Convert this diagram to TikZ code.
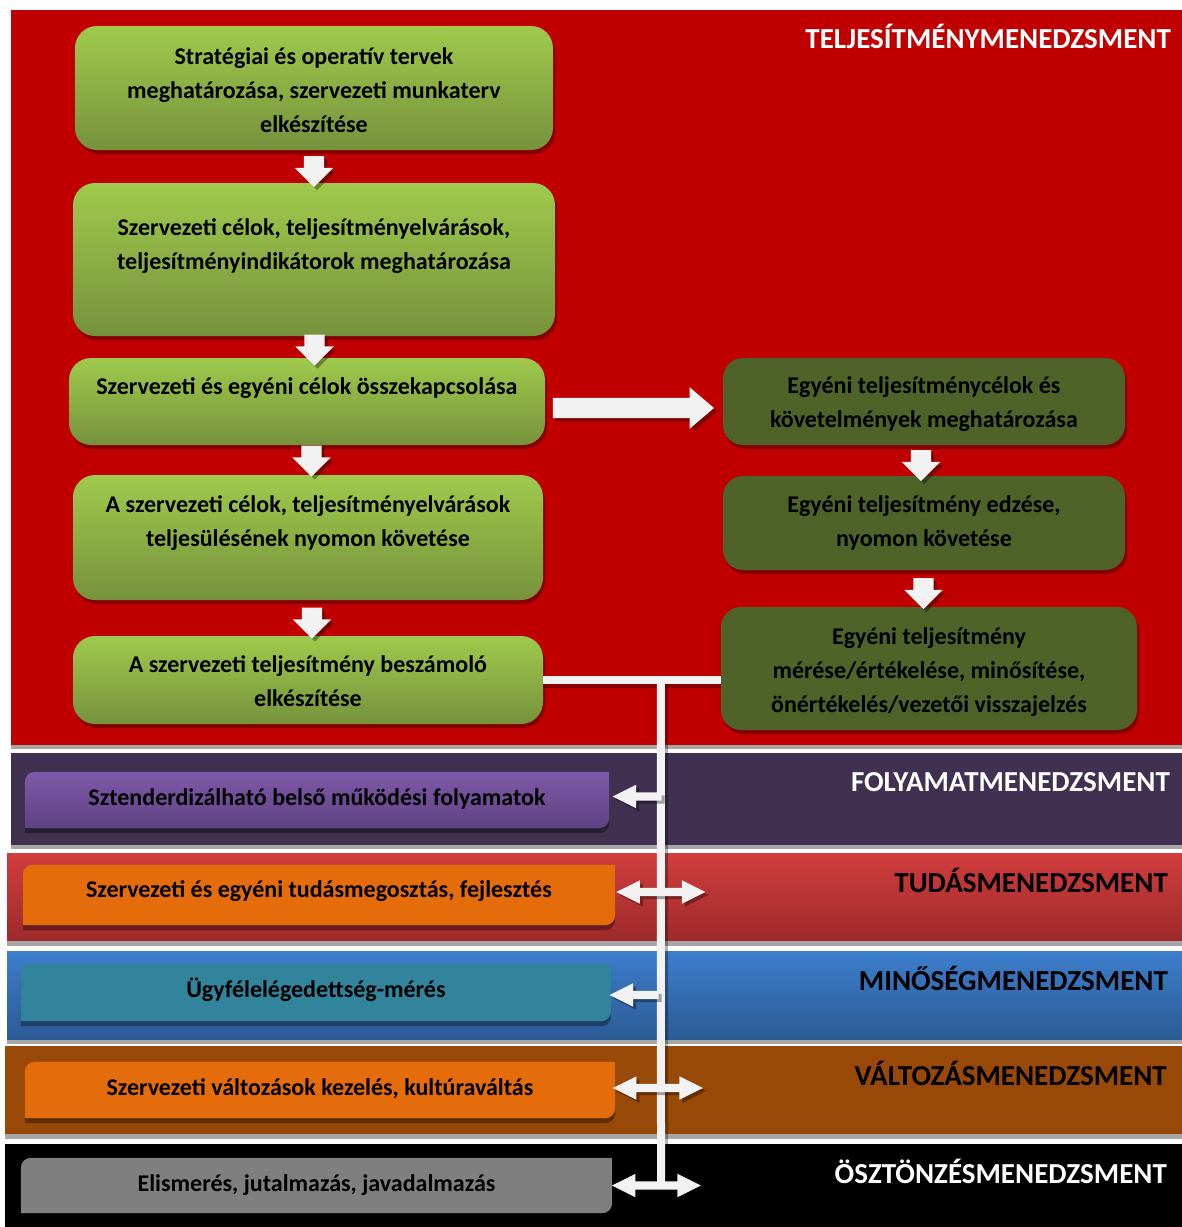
\documentclass[tikz,border=0pt]{standalone}
\usepackage{fontspec}
\setmainfont{Carlito}
\usetikzlibrary{shapes.arrows,shadows,calc}

\definecolor{bandred}{HTML}{C00000}
\definecolor{bandpurple}{HTML}{403151}
\definecolor{bandtudtop}{HTML}{D13D3D}
\definecolor{bandtudbot}{HTML}{9E2A2B}
\definecolor{bandbluetop}{HTML}{3D7ECC}
\definecolor{bandbluebot}{HTML}{2C5A95}
\definecolor{bandbrown}{HTML}{984807}
\definecolor{sepgrey}{HTML}{A6A6A6}
\definecolor{greentop}{HTML}{9FCA4C}
\definecolor{greenbot}{HTML}{76923C}
\definecolor{darkgreen}{HTML}{4F6228}
\definecolor{arrowwhite}{HTML}{F2F2F2}
\definecolor{purpletop}{HTML}{7F59A9}
\definecolor{purplebot}{HTML}{604283}
\definecolor{orangebox}{HTML}{E46C0A}
\definecolor{tealbox}{HTML}{31849B}
\definecolor{greybox}{HTML}{7F7F7F}

% box outline with rounded top-left and bottom-right corners:
% a rounded rectangle plus two square corner patches (same orientation)
\newcommand\diagshape[1]{[rounded corners=10pt] (#1.north west) rectangle (#1.south east) [sharp corners] ($(#1.south west)+(0,-12)$) rectangle ($(#1.south west)+(12,0)$) ($(#1.north east)+(-12,0)$) rectangle ($(#1.north east)+(0,12)$)}

\begin{document}
\begin{tikzpicture}[x=1pt,y=-1pt,
  boxtext/.style={font=\fontsize{24}{34}\selectfont\bfseries, align=center, text=black},
  bandtitle/.style={font=\fontsize{29}{32}\selectfont\bfseries, anchor=east, inner sep=0pt},
  boxshadow/.style={drop shadow={shadow xshift=2pt, shadow yshift=-4pt, fill=black, opacity=0.3}},
  arrshadow/.style={drop shadow={shadow xshift=3pt, shadow yshift=-3pt, fill=black, opacity=0.35}},
  greenbox/.style={rounded corners=22pt, top color=greentop, bottom color=greenbot, inner sep=0pt, boxshadow},
  darkbox/.style={rounded corners=20pt, fill=darkgreen, inner sep=0pt, boxshadow},
  bandbox/.style={inner sep=0pt, minimum height=56pt},
  downarr/.style={single arrow, shape border rotate=270, fill=arrowwhite, minimum height=31pt, inner sep=10pt, single arrow head extend=9pt, single arrow tip angle=90, arrshadow},
  rightarr/.style={single arrow, fill=arrowwhite, minimum height=161pt, inner sep=10pt, single arrow head extend=10.5pt, single arrow tip angle=81, arrshadow},
  leftarr/.style={single arrow, shape border rotate=180, fill=arrowwhite, inner sep=4pt, single arrow head extend=7.5pt, single arrow tip angle=53, arrshadow},
  dblarr/.style={double arrow, fill=arrowwhite, inner sep=4pt, double arrow head extend=7.5pt, double arrow tip angle=53, arrshadow},
  tline/.style={draw=arrowwhite, line width=8pt},
  tshadow/.style={draw=black, opacity=0.3, line width=8pt},
  strip/.style={fill=black, opacity=0.35, transform canvas={yshift=-5pt}}
]
\useasboundingbox (0,0) rectangle (1182,1227);
\fill[white] (0,0) rectangle (1182,1227);

% management bands
\fill[bandred] (11,10) rectangle (1182,745);
\fill[sepgrey] (11,745) rectangle (1182,749);
\fill[bandpurple] (11,753) rectangle (1182,845);
\fill[sepgrey] (11,845) rectangle (1182,849);
\shade[top color=bandtudtop, bottom color=bandtudbot] (7,853) rectangle (1182,941);
\fill[sepgrey] (7,941) rectangle (1182,946);
\shade[top color=bandbluetop, bottom color=bandbluebot] (7,951) rectangle (1182,1040);
\fill[sepgrey] (7,1040) rectangle (1182,1044);
\fill[bandbrown] (5,1046) rectangle (1182,1134);
\fill[sepgrey] (5,1134) rectangle (1182,1139);
\fill[black] (5,1144) rectangle (1182,1227);

% band titles
\node[bandtitle, text=white] (tt1) at (1171,36) {TELJESÍTMÉNYMENEDZSMENT};
\node[bandtitle, text=white] (tt2) at (1170,782) {FOLYAMATMENEDZSMENT};
\node[bandtitle, text=black] (tt3) at (1168,880) {TUDÁSMENEDZSMENT};
\node[bandtitle, text=black] (tt4) at (1168,978) {MINŐSÉGMENEDZSMENT};
\node[bandtitle, text=black] (tt5) at (1167,1073) {VÁLTOZÁSMENEDZSMENT};
\node[bandtitle, text=white] (tt6) at (1167,1171) {ÖSZTÖNZÉSMENEDZSMENT};

% organisational chain
\node[greenbox, minimum width=478pt, minimum height=124pt] (b1) at (314,88) {};
\node[greenbox, minimum width=482pt, minimum height=153pt] (b2) at (314,259.5) {};
\node[greenbox, minimum width=476pt, minimum height=87pt] (b3) at (307,401.5) {};
\node[greenbox, minimum width=470pt, minimum height=125pt] (b4) at (308,537.5) {};
\node[greenbox, minimum width=470pt, minimum height=88pt] (b5) at (308,680) {};

\node[boxtext] (b1t) at ($(b1.center)+(0,2)$) {Stratégiai és operatív tervek\\meghatározása, szervezeti munkaterv\\elkészítése};
\node[boxtext] (b2t) at ($(b2.center)+(0,-13.5)$) {Szervezeti célok, teljesítményelvárások,\\teljesítményindikátorok meghatározása};
\node[boxtext] (b3t) at ($(b3.center)+(0,-13.5)$) {Szervezeti és egyéni célok összekapcsolása};
\node[boxtext] (b4t) at ($(b4.center)+(0,-14)$) {A szervezeti célok, teljesítményelvárások\\teljesülésének nyomon követése};
\node[boxtext] (b5t) at ($(b5.center)+(0,1)$) {A szervezeti teljesítmény beszámoló\\elkészítése};

% individual chain
\node[darkbox, minimum width=402pt, minimum height=87pt] (d1) at (924,401.5) {};
\node[darkbox, minimum width=402pt, minimum height=94pt] (d2) at (924,523) {};
\node[darkbox, minimum width=416pt, minimum height=123pt] (d3) at (929,668.5) {};

\node[boxtext] (d1t) at ($(d1.center)+(0,3)$) {Egyéni teljesítménycélok és\\követelmények meghatározása};
\node[boxtext] (d2t) at ($(d2.center)+(0,-0.5)$) {Egyéni teljesítmény edzése,\\nyomon követése};
\node[boxtext] (d3t) at ($(d3.center)+(0,4)$) {Egyéni teljesítmény\\mérése/értékelése, minősítése,\\önértékelés/vezetői visszajelzés};

% block arrows of the chains
\node[downarr] (a12) at ($(b1.south)!0.5!(b2.north)$) {};
\node[downarr, xshift=4pt, yshift=2pt] (a23) at ($(b2.south)!0.5!(b3.north)$) {};
\node[downarr, xshift=4pt, yshift=4pt] (a34) at ($(b3.south)!0.5!(b4.north)$) {};
\node[downarr, xshift=4pt] (a45) at ($(b4.south)!0.5!(b5.north)$) {};
\node[downarr, xshift=-3pt] (ad12) at ($(d1.south)!0.5!(d2.north)$) {};
\node[downarr, xshift=-3pt] (ad23) at ($(d2.south)!0.5!(d3.north)$) {};
\node[rightarr, xshift=-6.5pt, yshift=-6.5pt] (ar) at ($(b3.east)!0.5!(d1.west)$) {};

% related management boxes
\node[bandbox, minimum width=584pt] (p1) at (317,800) {};
\node[bandbox, minimum width=592pt, minimum height=60pt] (o1) at (319,895) {};
\node[bandbox, minimum width=590pt, minimum height=57pt] (t1) at (316,992.5) {};
\node[bandbox, minimum width=590pt] (o2) at (320,1090) {};
\node[bandbox, minimum width=591pt, minimum height=55pt] (g1) at (316.5,1185.5) {};

\fill[strip] \diagshape{p1};
\shade[top color=purpletop, bottom color=purplebot] \diagshape{p1};
\fill[strip] \diagshape{o1};
\fill[orangebox] \diagshape{o1};
\fill[strip] \diagshape{t1};
\fill[tealbox] \diagshape{t1};
\fill[strip] \diagshape{o2};
\fill[orangebox] \diagshape{o2};
\fill[greybox] \diagshape{g1};

\node[boxtext] (p1t) at ($(p1.center)+(0,-1.5)$) {Sztenderdizálható belső működési folyamatok};
\node[boxtext] (o1t) at ($(o1.center)+(0,-3.5)$) {Szervezeti és egyéni tudásmegosztás, fejlesztés};
\node[boxtext] (t1t) at ($(t1.center)+(0,-2.5)$) {Ügyfélelégedettség-mérés};
\node[boxtext] (o2t) at ($(o2.center)+(0,-1)$) {Szervezeti változások kezelés, kultúraváltás};
\node[boxtext] (g1t) at ($(g1.center)+(0,0)$) {Elismerés, jutalmazás, javadalmazás};

% result line linking the chains to the other fields
\coordinate (tj) at ($(b5.east)!0.663!(b5.east -| d3.west)$);
\coordinate (vend) at (661,1184);
\draw[tshadow] ([yshift=-4pt]b5.east) -- ([yshift=-4pt]b5.east -| d3.west);
\draw[tshadow] ([xshift=3pt]tj) -- ([xshift=3pt]vend);
\draw[tline] (b5.east) -- (b5.east -| d3.west);
\draw[tline] (tj) -- (vend);

\node[leftarr, minimum height=49pt, anchor=tip] (ap) at ($(p1.east)+(3,-3.5)$) {};
\node[dblarr, minimum height=89pt] (ao1) at ($(o1.east -| tj)+(0,-3)$) {};
\node[leftarr, minimum height=49pt, anchor=tip] (at1) at ($(t1.east)+(-2,2.5)$) {};
\node[dblarr, minimum height=90pt] (ao2) at ($(o2.east -| tj)+(-3,-2)$) {};
\node[dblarr, minimum height=89pt] (ag1) at ($(g1.east -| tj)+(-4.5,0)$) {};
\end{tikzpicture}
\end{document}
